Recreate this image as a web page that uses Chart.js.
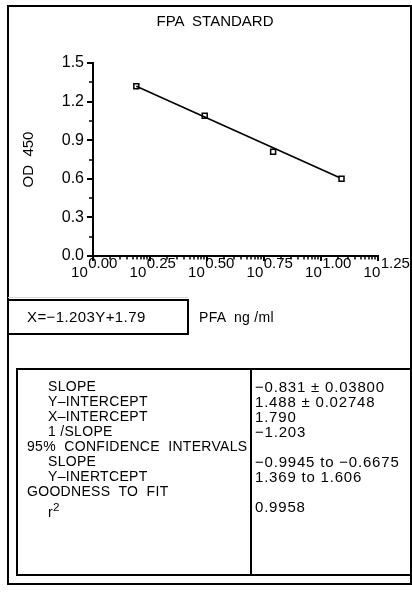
<!DOCTYPE html>
<html>
<head>
<meta charset="utf-8">
<script src="https://cdn.jsdelivr.net/npm/chart.js@4"></script>
<style>
  body { margin: 0; background: #fff; font-family: "Liberation Sans", Arial, sans-serif; color: #000; }
  #page { position: relative; width: 412px; height: 594px; overflow: hidden; }
  #chart { position: absolute; left: 0; top: 0; }
  .frame { position: absolute; left: 7px; top: 5px; width: 401px; height: 576px; border: 2px solid #000; }
  .title { position: absolute; left: 115px; width: 200px; top: 12px; text-align: center; font-size: 15px; line-height: 18px; white-space: pre; }
  .eq { position: absolute; left: 7px; top: 299px; width: 160px; height: 32px; border: 2px solid #000;
        font-size: 15px; letter-spacing: 0.4px; line-height: 32px; padding-left: 18px; }
  .unit { position: absolute; left: 199px; top: 301px; line-height: 32px; font-size: 14px; letter-spacing: 0.3px; white-space: pre; }
  .stats { position: absolute; left: 16px; top: 368px; width: 392px; height: 204px; border: 2px solid #000; }
  .stats .col { position: absolute; top: 0; bottom: 0; padding-top: 9px; font-size: 14px; line-height: 15px; letter-spacing: 0.3px; white-space: pre; }
  .stats .left { left: 0; width: 232px; border-right: 2px solid #000; }
  .stats .right { left: 234px; right: 0; font-size: 15px; letter-spacing: 0.8px; }
  .stats .row { height: 15px; }
  .ind { padding-left: 30px; }
  .noind { padding-left: 9px; }
  .gray { position: absolute; left: 8px; top: 297px; width: 180px; height: 1px; background: #d8d8d8; }
</style>
</head>
<body>
<div id="page">
  <canvas id="chart" width="412" height="594"></canvas>
  <div class="frame"></div>
  <div class="title" id="title"></div>
  <div class="gray"></div>
  <div class="eq" id="eq"></div>
  <div class="unit" id="unit"></div>
  <div class="stats">
    <div class="col left" id="statNames"></div>
    <div class="col right" id="statVals"></div>
  </div>
</div>
<script>
// log10 of PFA concentration (ng/ml) and OD 450 readings
var logConc = [0.19, 0.49, 0.79, 1.09];
var od450 = [1.32, 1.09, 0.81, 0.60];

// regression line ends as drawn
var fitX = [0.19, 1.08];
var fitY = [1.32, 0.61];

var xTicks = [0.00, 0.25, 0.50, 0.75, 1.00, 1.25];
var yTicks = [0.0, 0.3, 0.6, 0.9, 1.2, 1.5];

var chartTitle = "FPA  STANDARD";
var equation = "X=\u22121.203Y+1.79";
var unitLabel = "PFA  ng /ml";

var statNames = ["SLOPE", "Y\u2013INTERCEPT", "X\u2013INTERCEPT", "1 /SLOPE",
  "95%  CONFIDENCE  INTERVALS", "SLOPE", "Y\u2013INERTCEPT", "GOODNESS  TO  FIT", "r<sup>2</sup>"];
var statIndent = [1, 1, 1, 1, 0, 1, 1, 0, 1];
var statVals = ["\u22120.831 \u00b1 0.03800", "1.488 \u00b1 0.02748", "1.790", "\u22121.203", "",
  "\u22120.9945 to \u22120.6675", "1.369 to 1.606", "", "0.9958"];

document.getElementById("title").textContent = chartTitle;
document.getElementById("eq").textContent = equation;
document.getElementById("unit").textContent = unitLabel;
var namesHtml = "", valsHtml = "";
for (var i = 0; i < statNames.length; i++) {
  namesHtml += '<div class="row ' + (statIndent[i] ? "ind" : "noind") + '">' + statNames[i] + "</div>";
  valsHtml += '<div class="row" style="padding-left:3px">' + (statVals[i] || "&nbsp;") + "</div>";
}
document.getElementById("statNames").innerHTML = namesHtml;
document.getElementById("statVals").innerHTML = valsHtml;

var FONT = '"Liberation Sans", Arial, sans-serif';

// minor ticks and 10^x labels
var axisExtras = {
  id: "axisExtras",
  afterDraw: function(chart) {
    var ctx = chart.ctx, x = chart.scales.x, y = chart.scales.y;
    ctx.save();
    ctx.strokeStyle = "#000";
    ctx.lineWidth = 1.5;
    ctx.beginPath();
    for (var i = 0; i < xTicks.length - 1; i++) {
      for (var k = 2; k <= 9; k++) {
        var px = Math.round(x.getPixelForValue(xTicks[i] + 0.25 * Math.log10(k)));
        ctx.moveTo(px, y.bottom);
        ctx.lineTo(px, y.bottom + 3.5);
      }
    }
    for (var j = 0; j < yTicks.length - 1; j++) {
      var py = Math.round(y.getPixelForValue((yTicks[j] + yTicks[j + 1]) / 2));
      ctx.moveTo(x.left, py);
      ctx.lineTo(x.left - 4, py);
    }
    ctx.stroke();

    ctx.fillStyle = "#000";
    ctx.textBaseline = "alphabetic";
    ctx.textAlign = "left";
    ctx.font = "15px " + FONT;
    xTicks.forEach(function(v, n) {
      var px = x.getPixelForValue(v);
      var sup = v.toFixed(2);
      var w1 = ctx.measureText("10").width;
      var w2 = ctx.measureText(sup).width;
      var left = px - (w1 + w2) / 2 + 1 + n * 1.5;
      ctx.fillText("10", left, 277);
      ctx.fillText(sup, left + w1 + 0.5, 268);
    });
    ctx.restore();
  }
};

var ctx = document.getElementById("chart").getContext("2d");
new Chart(ctx, {
  type: "scatter",
  data: {
    datasets: [
      {
        label: "fit",
        data: fitX.map(function(v, i) { return {x: v, y: fitY[i]}; }),
        showLine: true,
        borderColor: "#000",
        borderWidth: 1.6,
        pointRadius: 0
      },
      {
        label: "standards",
        data: logConc.map(function(v, i) { return {x: v, y: od450[i]}; }),
        pointStyle: "rect",
        pointRadius: 3.5,
        borderColor: "#000",
        borderWidth: 1.5,
        backgroundColor: "#fff"
      }
    ]
  },
  plugins: [axisExtras],
  options: {
    responsive: false,
    animation: false,
    events: [],
    layout: { padding: { top: 63, left: 8, right: 34, bottom: 0 } },
    plugins: {
      legend: { display: false },
      tooltip: { enabled: false }
    },
    scales: {
      x: {
        type: "linear",
        min: 0,
        max: 1.25,
        afterFit: function(scale) { scale.height = 338; },
        afterBuildTicks: function(scale) { scale.ticks = xTicks.map(function(v) { return {value: v}; }); },
        ticks: { display: false },
        grid: { drawOnChartArea: false, drawTicks: true, tickLength: 5, color: "#000", lineWidth: 2 },
        border: { display: true, color: "#000", width: 2 }
      },
      y: {
        type: "linear",
        min: 0,
        max: 1.5,
        afterFit: function(scale) { scale.width = 85; },
        afterBuildTicks: function(scale) { scale.ticks = yTicks.map(function(v) { return {value: v}; }); },
        ticks: {
          color: "#000",
          padding: 3,
          font: { family: FONT, size: 16 },
          callback: function(v) { return Number(v).toFixed(1); }
        },
        title: {
          display: true,
          text: "OD  450",
          color: "#000",
          font: { family: FONT, size: 15 },
          padding: { top: 12 }
        },
        grid: { drawOnChartArea: false, drawTicks: true, tickLength: 6, color: "#000", lineWidth: 2 },
        border: { display: true, color: "#000", width: 2 }
      }
    }
  }
});
</script>
</body>
</html>
